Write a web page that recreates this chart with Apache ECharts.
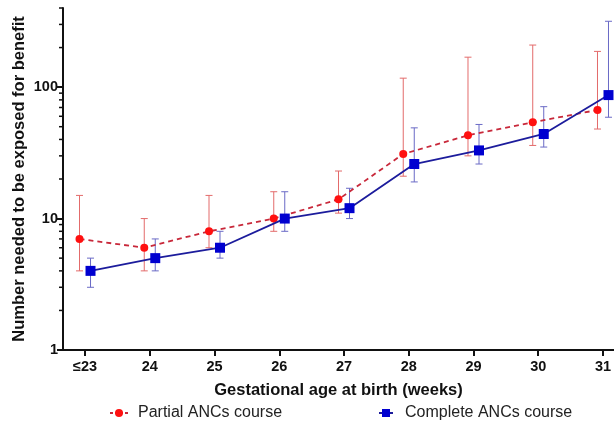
<!DOCTYPE html>
<html>
<head>
<meta charset="utf-8">
<script src="https://cdn.jsdelivr.net/npm/echarts@6/dist/echarts.min.js"></script>
<style>
  html, body { margin: 0; padding: 0; background: #fff; }
  #chart { width: 614px; height: 427px; }
</style>
</head>
<body>
<div id="chart"></div>
<script>
// gestational week positions and their labels
const weeks = [23, 24, 25, 26, 27, 28, 29, 30, 31];
const weekLabels = ["≤23", "24", "25", "26", "27", "28", "29", "30", "31"];

// Partial ANCs course: NNEB with 95% CI
const partialValue = [7, 6, 8, 10, 14, 31, 43, 54, 67];
const partialLow = [4, 4, 6, 8, 11, 21, 30, 36, 48];
const partialHigh = [15, 10, 15, 16, 23, 117, 169, 209, 187];

// Complete ANCs course
const completeValue = [4, 5, 6, 10, 12, 26, 33, 44, 87];
const completeLow = [3, 4, 5, 8, 10, 19, 26, 35, 59];
const completeHigh = [5, 7, 8, 16, 17, 49, 52, 71, 317];

// minor ticks on the log axis
const minorTickValues = [2, 3, 4, 5, 6, 7, 8, 9, 20, 30, 40, 50, 60, 70, 80, 90, 200, 300, 400];

// small horizontal nudge so the two groups don't overlap
const nudge = 0.085;
const xMin = 22.66;
const xMax = 31.17;

const partialName = "Partial ANCs course";
const completeName = "Complete ANCs course";

const partialPoints = weeks.map((w, i) => [w - nudge, partialValue[i]]);
const completePoints = weeks.map((w, i) => [w + nudge, completeValue[i]]);
const partialBars = weeks.map((w, i) => [w - nudge, partialLow[i], partialHigh[i]]);
const completeBars = weeks.map((w, i) => [w + nudge, completeLow[i], completeHigh[i]]);

function errorBarRenderer(color) {
    return function (params, api) {
        const x = api.value(0);
        const lo = api.coord([x, api.value(1)]);
        const hi = api.coord([x, api.value(2)]);
        const cap = 3.5;
        const style = { stroke: color, lineWidth: 1 };
        return {
            type: "group",
            children: [
                { type: "line", shape: { x1: lo[0], y1: lo[1], x2: hi[0], y2: hi[1] }, style },
                { type: "line", shape: { x1: hi[0] - cap, y1: hi[1], x2: hi[0] + cap, y2: hi[1] }, style },
                { type: "line", shape: { x1: lo[0] - cap, y1: lo[1], x2: lo[0] + cap, y2: lo[1] }, style },
            ],
        };
    };
}

const fontFamily = "Liberation Sans, Arial, sans-serif";
const labelFont = {
    fontFamily,
    fontWeight: "bold",
    color: "#111",
};
const legendText = { fontFamily, fontSize: 16, color: "#222" };

const option = {
    animation: false,
    backgroundColor: "#fff",
    grid: {
        left: 63,
        right: 0,
        top: 8,
        bottom: 77,
        outerBoundsMode: "none",
    },
    legend: [
        {
            data: [partialName],
            left: 104,
            top: 400,
            itemWidth: 18,
            itemHeight: 10,
            lineStyle: { type: [3, 2] },
            textStyle: { ...legendText, padding: [0, 0, 0, 5] },
        },
        {
            data: [completeName],
            left: 373,
            top: 400,
            itemWidth: 14,
            itemHeight: 10,
            textStyle: { ...legendText, padding: [0, 0, 0, 7] },
        },
    ],
    xAxis: {
        type: "value",
        min: xMin,
        max: xMax,
        name: "Gestational age at birth (weeks)",
        nameLocation: "middle",
        nameGap: 32,
        nameMoveOverlap: false,
        nameTextStyle: { ...labelFont, fontSize: 16.5 },
        axisLine: { lineStyle: { color: "#111", width: 2 } },
        axisTick: {
            customValues: weeks,
            length: 6,
            lineStyle: { color: "#111", width: 2 },
        },
        axisLabel: {
            customValues: weeks,
            ...labelFont,
            fontSize: 14.5,
            margin: 9,
            formatter: v => weekLabels[weeks.indexOf(Math.round(v))],
        },
        splitLine: { show: false },
    },
    yAxis: {
        type: "log",
        logBase: 10,
        min: 1,
        max: 400,
        name: "Number needed to be exposed for benefit",
        nameLocation: "middle",
        nameGap: 35,
        nameMoveOverlap: false,
        nameTextStyle: { ...labelFont, fontSize: 16.5 },
        axisLine: { show: true, lineStyle: { color: "#111", width: 2 } },
        axisTick: { length: 6, lineStyle: { color: "#111", width: 2 } },
        axisLabel: {
            ...labelFont,
            fontSize: 14.5,
            margin: 5,
            showMaxLabel: false,
        },
        splitLine: { show: false },
    },
    series: [
        {
            type: "custom",
            name: "minorTicks",
            silent: true,
            clip: false,
            data: minorTickValues.map(v => [xMin, v]),
            renderItem(params, api) {
                const p = api.coord([xMin, api.value(1)]);
                return {
                    type: "line",
                    shape: { x1: p[0] - 4, y1: p[1], x2: p[0], y2: p[1] },
                    style: { stroke: "#111", lineWidth: 1.5 },
                };
            },
            z: 1,
        },
        {
            type: "custom",
            name: "partialErr",
            silent: true,
            data: partialBars,
            renderItem: errorBarRenderer("#e36b6b"),
            z: 2,
        },
        {
            type: "custom",
            name: "completeErr",
            silent: true,
            data: completeBars,
            renderItem: errorBarRenderer("#6a6ac6"),
            z: 2,
        },
        {
            type: "line",
            name: partialName,
            data: partialPoints,
            symbol: "circle",
            symbolSize: 8,
            itemStyle: { color: "#ff1010" },
            lineStyle: { color: "#c8283a", width: 1.8, type: [5, 4] },
            z: 3,
        },
        {
            type: "line",
            name: completeName,
            data: completePoints,
            symbol: "rect",
            symbolSize: 10,
            itemStyle: { color: "#0000d0" },
            lineStyle: { color: "#1c1c9c", width: 1.8 },
            z: 4,
        },
    ],
};

const chart = echarts.init(document.getElementById("chart"), null, { renderer: "canvas" });
chart.setOption(option);
</script>
</body>
</html>
